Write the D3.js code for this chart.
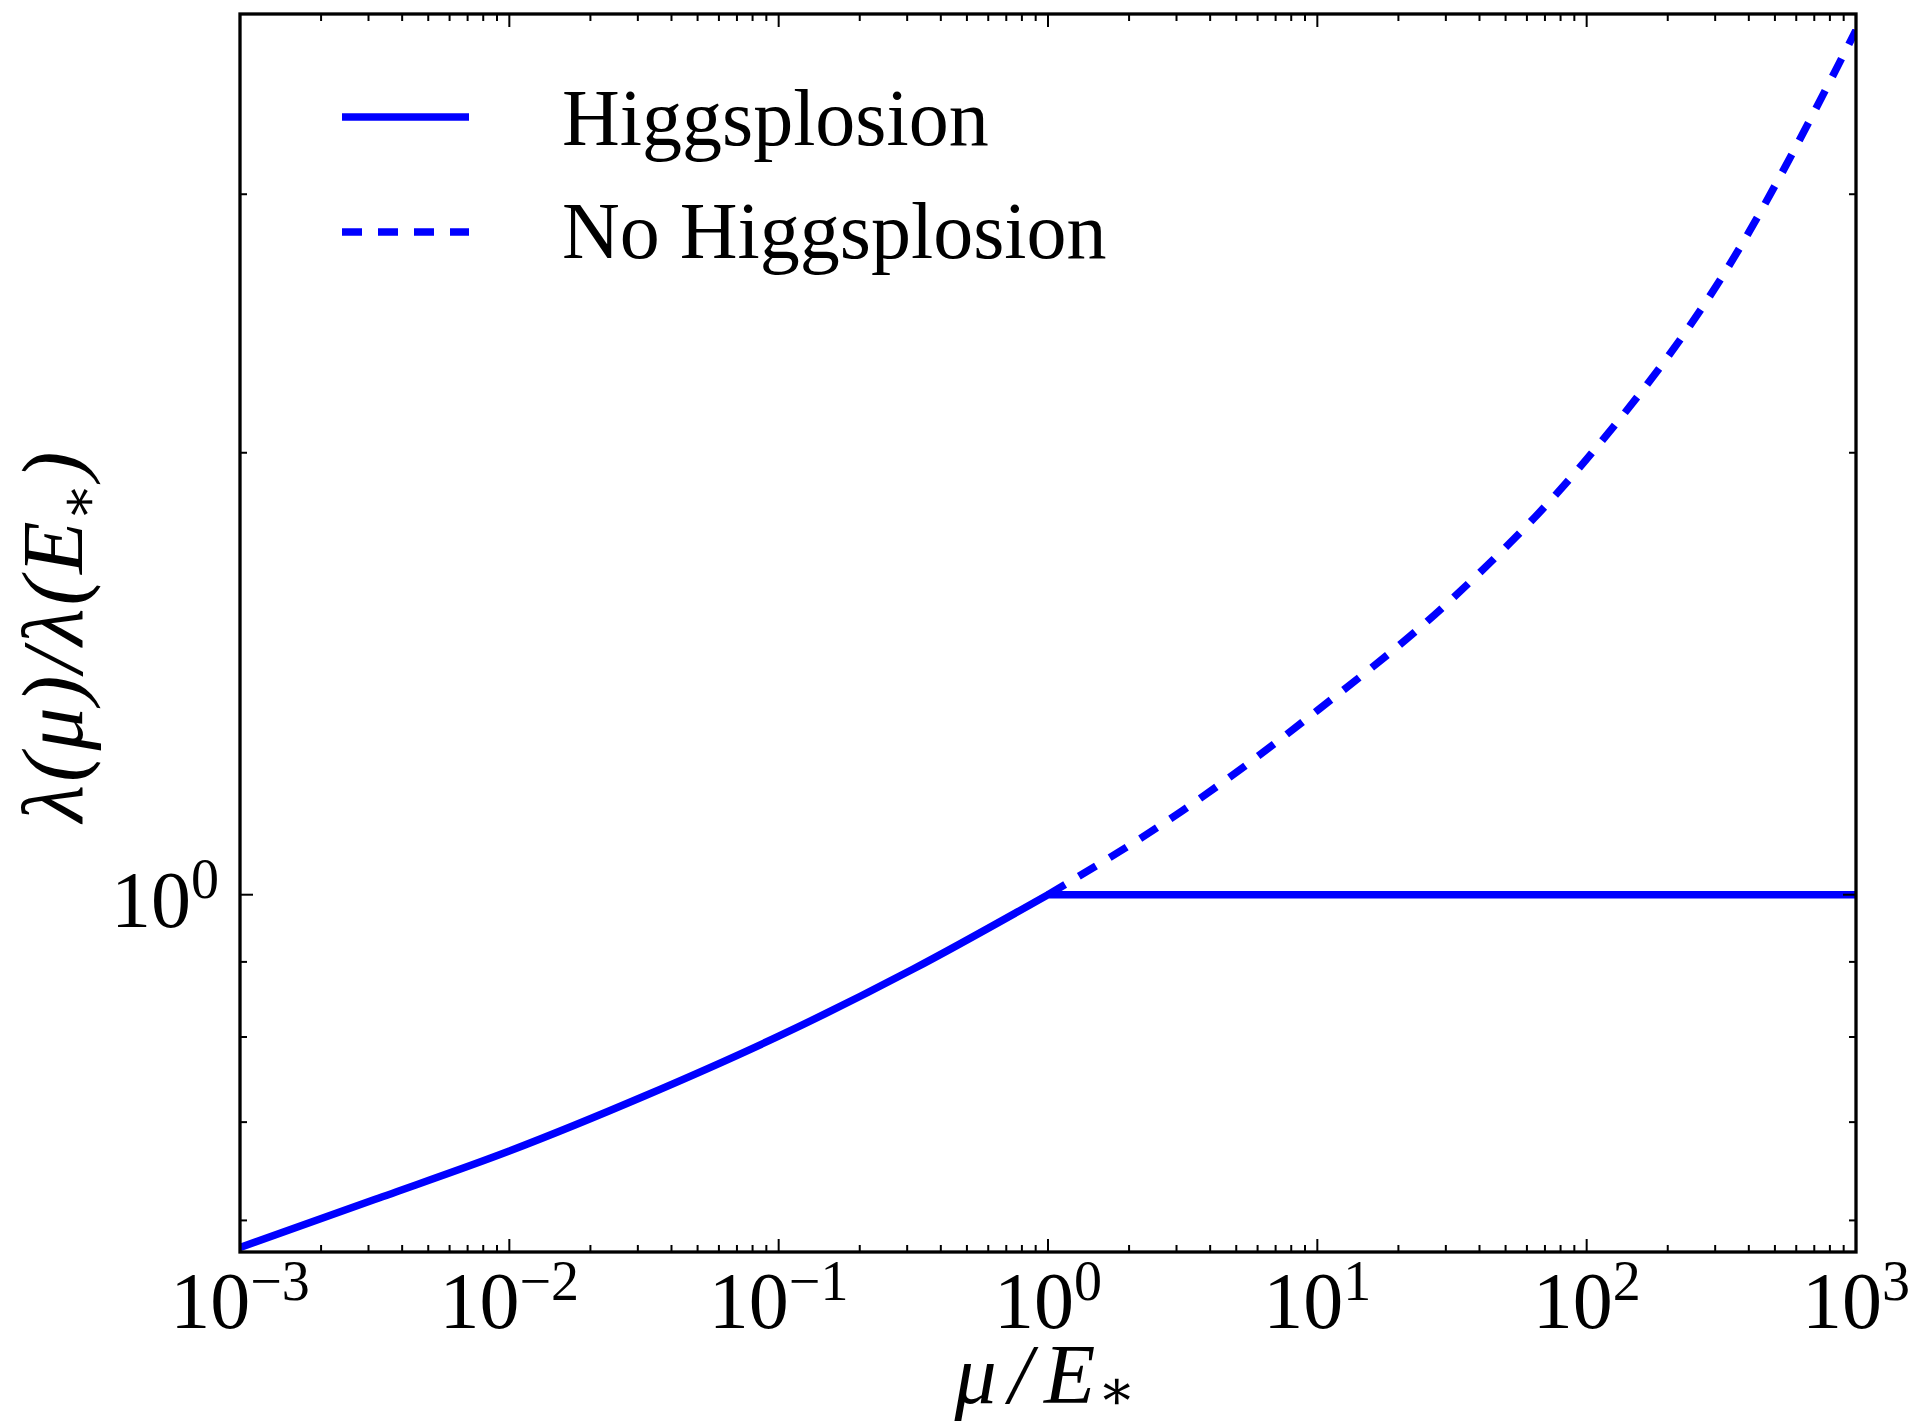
<!DOCTYPE html>
<html>
<head>
<meta charset="utf-8">
<script src="https://cdn.jsdelivr.net/npm/d3@7"></script>
<style>
  html, body { margin: 0; padding: 0; background: #ffffff; }
  svg { display: block; }
  text { font-family: "Liberation Serif", "DejaVu Serif", serif; fill: #000; }
</style>
</head>
<body>
<script>
// ---------------- data ----------------
const xTickValues    = [1e-3, 1e-2, 1e-1, 1, 1e1, 1e2, 1e3];
const xTickExponents = ["\u22123", "\u22122", "\u22121", "0", "1", "2", "3"];
const yTickValues    = [1];
const yTickExponents = ["0"];
const yMinorValues   = [0.6, 0.7, 0.8, 0.9, 2, 3];

// Higgsplosion: running part up to mu/E* = 1, then flat
const higgsCurveX = [0.001, 0.00316, 0.01, 0.0316, 0.1, 0.316, 1];
const higgsCurveY = [0.575, 0.620, 0.669, 0.729, 0.801, 0.890, 1.0];
const higgsFlatX  = [1, 1000];
const higgsFlatY  = [1.0, 1.0];

// No Higgsplosion: keeps running above E*
const noHiggsX = [1, 3.16, 10, 31.6, 100, 316, 1000];
const noHiggsY = [1.0, 1.141, 1.335, 1.59, 1.98, 2.63, 3.88];

const seriesNames = ["Higgsplosion", "No Higgsplosion"];

// ---------------- layout ----------------
const W = 1915, H = 1425;
const L = 240, R = 1856, T = 14, B = 1252;
const blue = "#0000ff";
const LW = 7.5;
const DASH = "20,16";

const svg = d3.select("body").append("svg").attr("width", W).attr("height", H);
svg.append("rect").attr("width", W).attr("height", H).attr("fill", "#fff");

const x = d3.scaleLog().domain([1e-3, 1e3]).range([L, R]);
const y = d3.scaleLog().domain([0.571, 3.98]).range([B, T]);

svg.append("defs").append("clipPath").attr("id", "clip")
  .append("rect").attr("x", L).attr("y", T).attr("width", R - L).attr("height", B - T);

const plot = svg.append("g").attr("clip-path", "url(#clip)");

const curveLine = d3.line().x(d => x(d[0])).y(d => y(d[1])).curve(d3.curveMonotoneX);
const flatLine  = d3.line().x(d => x(d[0])).y(d => y(d[1]));

const higgsCurve = higgsCurveX.map((v, i) => [v, higgsCurveY[i]]);
const higgsFlat  = higgsFlatX.map((v, i) => [v, higgsFlatY[i]]);
const noHiggs    = noHiggsX.map((v, i) => [v, noHiggsY[i]]);

// solid line as one path (curve + flat continuation)
plot.append("path")
  .attr("d", curveLine(higgsCurve) + flatLine(higgsFlat).replace(/^M/, "L"))
  .attr("fill", "none").attr("stroke", blue).attr("stroke-width", LW)
  .attr("stroke-linejoin", "round").attr("stroke-linecap", "square");

plot.append("path")
  .attr("d", curveLine(noHiggs))
  .attr("fill", "none").attr("stroke", blue).attr("stroke-width", LW)
  .attr("stroke-dasharray", DASH).attr("stroke-linecap", "butt");

// ---------------- frame and ticks ----------------
const axG = svg.append("g");
const majorLen = 13, minorLen = 7, tickW = 2;

const xMinor = [];
for (let e = -3; e < 3; e++) for (let m = 2; m <= 9; m++) xMinor.push(m * Math.pow(10, e));

function vtick(xv, len) {
  axG.append("line").attr("x1", x(xv)).attr("x2", x(xv)).attr("y1", B).attr("y2", B - len)
    .attr("stroke", "#000").attr("stroke-width", tickW);
  axG.append("line").attr("x1", x(xv)).attr("x2", x(xv)).attr("y1", T).attr("y2", T + len)
    .attr("stroke", "#000").attr("stroke-width", tickW);
}
function htick(yv, len) {
  axG.append("line").attr("x1", L).attr("x2", L + len).attr("y1", y(yv)).attr("y2", y(yv))
    .attr("stroke", "#000").attr("stroke-width", tickW);
  axG.append("line").attr("x1", R).attr("x2", R - len).attr("y1", y(yv)).attr("y2", y(yv))
    .attr("stroke", "#000").attr("stroke-width", tickW);
}
xMinor.forEach(v => vtick(v, minorLen));
xTickValues.forEach(v => vtick(v, majorLen));
yMinorValues.forEach(v => htick(v, minorLen));
yTickValues.forEach(v => htick(v, majorLen));

axG.append("rect").attr("x", L).attr("y", T).attr("width", R - L).attr("height", B - T)
  .attr("fill", "none").attr("stroke", "#000").attr("stroke-width", 3.3);

// tick labels
xTickValues.forEach((v, i) => {
  const t = svg.append("text").attr("x", x(v)).attr("y", 1328)
    .attr("text-anchor", "middle").attr("font-size", 80);
  t.append("tspan").text("10");
  t.append("tspan").attr("dy", -28).attr("font-size", 56).text(xTickExponents[i]);
});
yTickValues.forEach((v, i) => {
  const t = svg.append("text").attr("x", 219).attr("y", y(v) + 32)
    .attr("text-anchor", "end").attr("font-size", 80);
  t.append("tspan").text("10");
  t.append("tspan").attr("dy", -29).attr("font-size", 56).text(yTickExponents[i]);
});

// axis labels
const xl = svg.append("text").attr("x", 1045).attr("y", 1403)
  .attr("text-anchor", "middle").attr("font-size", 84).attr("font-style", "italic");
xl.append("tspan").attr("letter-spacing", 12).text("\u03bc/");
xl.append("tspan").text("E");
xl.append("tspan").attr("dx", 2).attr("dy", 6).attr("font-size", 56)
  .attr("font-style", "normal").text("\u2217");

const yl = svg.append("text").attr("transform", "translate(82,637) rotate(-90)")
  .attr("text-anchor", "middle").attr("font-size", 86).attr("font-style", "italic");
yl.append("tspan").attr("letter-spacing", 3).text("\u03bb(\u03bc)/\u03bb(");
yl.append("tspan").text("E");
yl.append("tspan").attr("dy", 15).attr("font-size", 56)
  .attr("font-style", "normal").text("\u2217");
yl.append("tspan").attr("dx", 3).attr("dy", -15).attr("font-size", 86).text(")");

// ---------------- legend ----------------
const leg = svg.append("g");
const legendRows = [
  { name: seriesNames[0], dash: null, ly: 117, ty: 145 },
  { name: seriesNames[1], dash: DASH, ly: 232, ty: 258 }
];
legendRows.forEach(r => {
  const ln = leg.append("line").attr("x1", 342).attr("x2", 469).attr("y1", r.ly).attr("y2", r.ly)
    .attr("stroke", blue).attr("stroke-width", LW).attr("stroke-linecap", "butt");
  if (r.dash) ln.attr("stroke-dasharray", r.dash);
  leg.append("text").attr("x", 562).attr("y", r.ty).attr("font-size", 80).text(r.name);
});
</script>
</body>
</html>
